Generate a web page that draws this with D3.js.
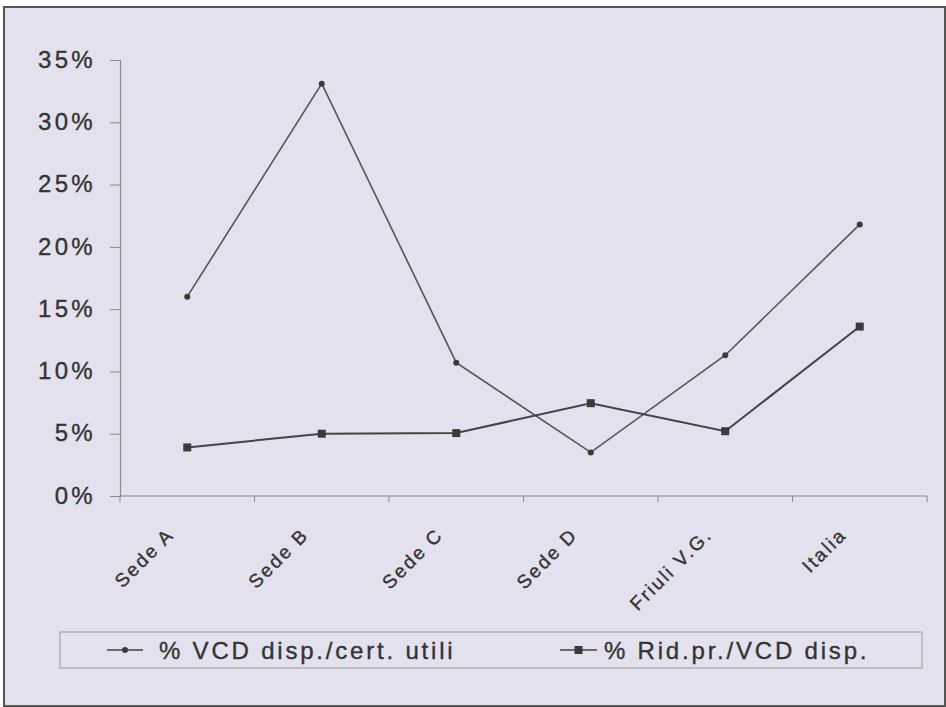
<!DOCTYPE html>
<html>
<head>
<meta charset="utf-8">
<script src="https://cdn.jsdelivr.net/npm/d3@7/dist/d3.min.js"></script>
<style>
  html, body { margin: 0; padding: 0; background: #ffffff; }
  svg { display: block; }
  text { font-family: "Liberation Sans", Arial, sans-serif; fill: #333; stroke: #333; stroke-width: 0.35; }
</style>
</head>
<body>
<svg id="chart" width="946" height="707"></svg>
<script>
// Categories and series values (percent)
const categories = ["Sede A", "Sede B", "Sede C", "Sede D", "Friuli V.G.", "Italia"];
const vcdDispCert = [16.0, 33.1, 10.7, 3.5, 11.3, 21.8];
const ridPrVcd = [3.9, 5.0, 5.05, 7.45, 5.2, 13.6];
const seriesNames = ["% VCD disp./cert. utili", "% Rid.pr./VCD disp."];
const yTicks = [0, 5, 10, 15, 20, 25, 30, 35];

const svg = d3.select("#chart");

// Panel background with dark frame
svg.append("rect")
  .attr("x", 4).attr("y", 7).attr("width", 941).attr("height", 699)
  .attr("fill", "#e3e1ed").attr("stroke", "#555").attr("stroke-width", 2);

const plotLeft = 120, plotRight = 927, plotTop = 60, plotBottom = 496;

const x = d3.scaleBand().domain(categories).range([plotLeft, plotRight]);
const y = d3.scaleLinear().domain([0, 35]).range([plotBottom, plotTop]);

// Y axis
const yAxis = svg.append("g")
  .attr("transform", `translate(${plotLeft},0)`)
  .call(d3.axisLeft(y).tickValues(yTicks).tickFormat(d => d + "%").tickSize(10).tickPadding(14));
yAxis.select(".domain").attr("stroke", "#8a8a8a").attr("stroke-width", 1.2);
yAxis.selectAll(".tick line").attr("stroke", "#8a8a8a");
yAxis.selectAll(".tick text")
  .attr("font-size", 24).attr("letter-spacing", 3.3).attr("fill", "#333")
  .attr("dy", "0.3em")
  .attr("font-family", "Liberation Sans, Arial, sans-serif");

// X axis: ticks at band boundaries
const xg = svg.append("g");
xg.append("line")
  .attr("x1", plotLeft).attr("x2", plotRight).attr("y1", plotBottom).attr("y2", plotBottom)
  .attr("stroke", "#8a8a8a").attr("stroke-width", 1.2);
const bounds = categories.map(c => x(c)).concat([plotRight]);
xg.selectAll("line.tk").data(bounds).join("line")
  .attr("class", "tk")
  .attr("x1", d => d).attr("x2", d => d)
  .attr("y1", plotBottom).attr("y2", plotBottom + 6)
  .attr("stroke", "#8a8a8a");

// Rotated category labels
xg.selectAll("text.cat").data(categories).join("text")
  .attr("class", "cat")
  .attr("text-anchor", "end")
  .attr("font-size", 19)
  .attr("letter-spacing", 2.2)
  .attr("transform", d => `translate(${x(d) + x.bandwidth() / 2 - 12},536) rotate(-45)`)
  .text(d => d);

const cx = d => x(d) + x.bandwidth() / 2;
const line = d3.line().x((d, i) => cx(categories[i])).y(d => y(d));

// Series 1: line with small dot markers
svg.append("path").datum(vcdDispCert)
  .attr("d", line).attr("fill", "none").attr("stroke", "#555").attr("stroke-width", 1.6);
svg.selectAll("circle.s1").data(vcdDispCert).join("circle")
  .attr("class", "s1")
  .attr("cx", (d, i) => cx(categories[i])).attr("cy", d => y(d))
  .attr("r", 3).attr("fill", "#3a3a3a");

// Series 2: line with square markers
svg.append("path").datum(ridPrVcd)
  .attr("d", line).attr("fill", "none").attr("stroke", "#444").attr("stroke-width", 2);
svg.selectAll("rect.s2").data(ridPrVcd).join("rect")
  .attr("class", "s2")
  .attr("x", (d, i) => cx(categories[i]) - 4).attr("y", d => y(d) - 4)
  .attr("width", 8).attr("height", 8).attr("fill", "#3a3a3a");

// Legend
const lg = svg.append("g");
lg.append("rect")
  .attr("x", 60).attr("y", 632).attr("width", 862).attr("height", 36)
  .attr("fill", "none").attr("stroke", "#9a9a9a").attr("stroke-width", 1);

const legendItems = [
  { name: seriesNames[0], x0: 107, x1: 143, tx: 159, marker: "dot" },
  { name: seriesNames[1], x0: 560, x1: 597, tx: 604, marker: "square" }
];
const ly = 650;
legendItems.forEach(it => {
  lg.append("line").attr("x1", it.x0).attr("x2", it.x1).attr("y1", ly).attr("y2", ly)
    .attr("stroke", "#444").attr("stroke-width", 1.6);
  const mx = (it.x0 + it.x1) / 2;
  if (it.marker === "dot") {
    lg.append("circle").attr("cx", mx).attr("cy", ly).attr("r", 3).attr("fill", "#3a3a3a");
  } else {
    lg.append("rect").attr("x", mx - 4).attr("y", ly - 4).attr("width", 8).attr("height", 8).attr("fill", "#3a3a3a");
  }
  lg.append("text").attr("x", it.tx).attr("y", ly + 9)
    .attr("font-size", 24).attr("letter-spacing", 2.8)
    .text(it.name);
});
</script>
</body>
</html>
